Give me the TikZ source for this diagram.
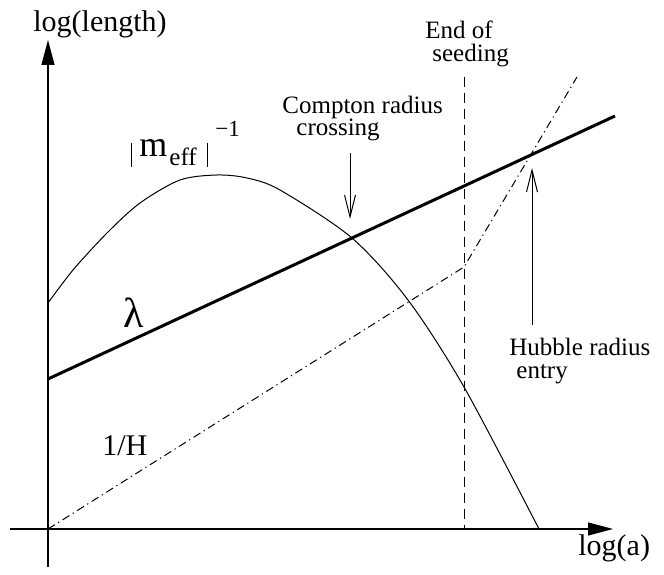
\documentclass[tikz,border=0pt]{standalone}
\usepackage{fontspec}
\setmainfont{Liberation Serif}
\usetikzlibrary{arrows.meta, positioning}
\newcommand{\lblsize}{\fontsize{12.5}{11.5}\selectfont}
\newcommand{\normbar}{\rule[-5pt]{0.5pt}{12pt}}

\begin{document}
\begin{tikzpicture}[x=0.5pt, y=0.5pt, >={Triangle[length=12.5pt, width=6.5pt]},
  axis/.style={line width=0.6pt},
  thinline/.style={line width=0.5pt},
  pointer/.style={line width=0.5pt, -{Straight Barb[length=11pt, width=5.5pt]}},
  hubble/.style={line width=0.5pt, dash pattern=on 4pt off 2pt on 0.6pt off 2pt},
  lbl/.style={inner sep=0pt, anchor=base west, font=\lblsize, align=left},
  biglbl/.style={inner sep=0pt, anchor=base west, font=\fontsize{15}{15}\selectfont}]
  \useasboundingbox (-48,-45) rectangle (616,529);
  % axes
  \coordinate (O) at (0,0);
  \coordinate (ybot) at (0,-38);
  \coordinate (ytop) at (0,489);
  \coordinate (xbot) at (-38,0);
  \coordinate (xtop) at (565,0);
  \draw[axis, ->] (ybot) -- (ytop);
  \draw[axis, ->] (xbot) -- (xtop);
  \node[biglbl] (ylabel) at (-15,497) {log(length)};
  \node[biglbl] (xlabel) at (530,-26) {log(a)};
  % lambda
  \coordinate (lam0) at (0,150);
  \coordinate (lam1) at (567,413);
  \draw[line width=1.5pt] (lam0) -- (lam1);
  \node[inner sep=0pt, anchor=base west, font=\fontsize{21}{21}\selectfont] (lamlabel) at (75,202) {λ};
  % 1/H
  \coordinate (seed) at (416,262);
  \coordinate (hend) at (529,452);
  \draw[hubble] (O) -- (seed) -- (hend);
  \node[biglbl] (hlabel) at (54,74) {1/H};
  % end of seeding
  \coordinate (seedbot) at (416,0);
  \coordinate (seedtop) at (416,452);
  \draw[thinline, dash pattern=on 5pt off 3pt] (seedtop) -- (seedbot);
  \node[lbl] (seeding) at (377,467) {End of\\\hspace*{3.5pt}seeding};
  % |m_eff|^-1
  \draw[thinline] plot[smooth] coordinates {(0,226) (25,259) (59,296) (92,326) (132,349)
    (169,354) (199,351) (232,339) (304,291) (360,229) (416,142) (491,0)};
  \node[inner sep=0pt, anchor=base west, font=\fontsize{18}{18}\selectfont] (meff) at (83,372)
    {\rlap{\normbar}\hspace{4pt}\rlap{m}\hspace{15pt}\rlap{\raisebox{-4.5pt}{\lblsize eff}}\hspace{19pt}%
     \rlap{\normbar}\hspace{4pt}\raisebox{10pt}{\fontsize{11.5}{11.5}\selectfont −1}};
  % crossings
  \node[lbl] (compton) at (234,393) {Compton radius\\\hspace*{7pt}crossing};
  \coordinate (ctop) at (302,376);
  \coordinate (ctip) at (302,310);
  \draw[pointer] (ctop) -- (ctip);
  \node[lbl] (hubble) at (461,151) {Hubble radius\\\hspace*{3.5pt}entry};
  \coordinate (hbot) at (484,204);
  \coordinate (htip) at (484,361);
  \draw[pointer] (hbot) -- (htip);
\end{tikzpicture}
\end{document}
